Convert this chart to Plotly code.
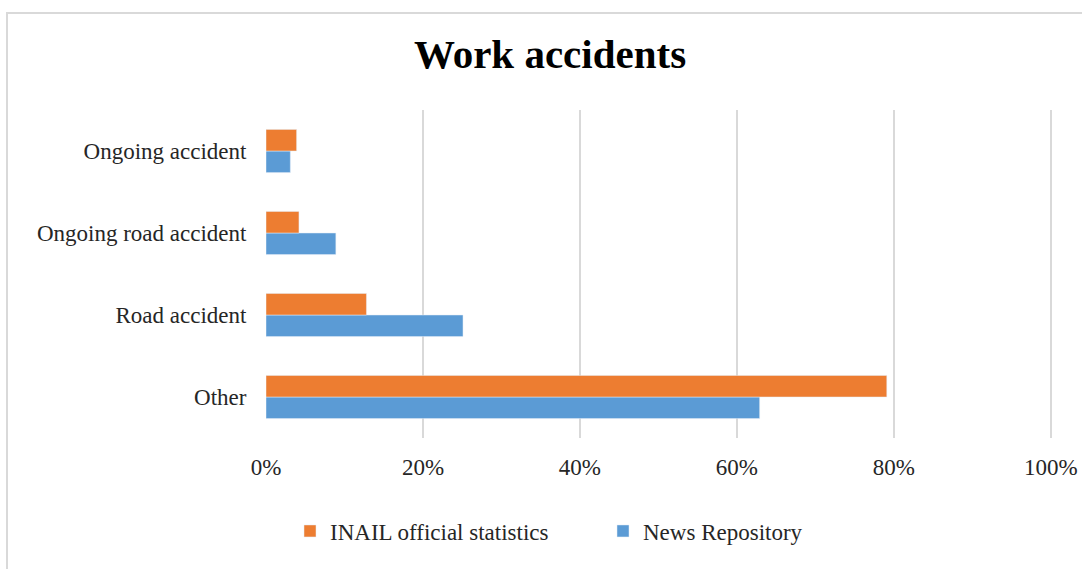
import plotly.graph_objects as go

# Categories listed bottom-to-top as they appear on the vertical axis
categories = ["Other", "Road accident", "Ongoing road accident", "Ongoing accident"]
news_repository = [62.9, 25.1, 8.9, 3.1]
inail_statistics = [79.1, 12.8, 4.2, 3.9]
x_ticks = [0, 20, 40, 60, 80, 100]
x_tick_labels = [f"{v}%" for v in x_ticks]

W, H = 1082, 569
ML, MR, MT, MB = 266, 30, 110, 131

serif = "Liberation Serif, Times New Roman, serif"
BLUE = "#5B9BD5"
ORANGE = "#ED7D31"
GRID = "#D9D9D9"
TEXT = "#262626"

fig = go.Figure()
fig.add_trace(go.Bar(
    y=categories, x=news_repository, orientation="h",
    name="News Repository", marker=dict(color=BLUE),
))
fig.add_trace(go.Bar(
    y=categories, x=inail_statistics, orientation="h",
    name="INAIL official statistics", marker=dict(color=ORANGE),
))

pw = W - ML - MR
ph = H - MT - MB

fig.update_layout(
    width=W, height=H,
    margin=dict(l=ML, r=MR, t=MT, b=MB, pad=0, autoexpand=False),
    paper_bgcolor="white", plot_bgcolor="white",
    barmode="group", bargap=0.474, bargroupgap=0,
    font=dict(family=serif, size=23, color=TEXT),
    title=dict(
        text="<b>Work accidents</b>",
        font=dict(family=serif, size=41, color="black"),
        x=550 / W, xanchor="center", xref="container",
        y=1 - 54 / H, yanchor="middle", yref="container",
    ),
    xaxis=dict(
        range=[0, 100.15], tickmode="array",
        tickvals=x_ticks, ticktext=x_tick_labels,
        showgrid=True, gridcolor=GRID, gridwidth=2,
        zeroline=False, showline=False,
        ticks="outside", ticklen=8, tickcolor="rgba(0,0,0,0)",
        tickfont=dict(family=serif, size=23, color=TEXT),
        fixedrange=True, automargin=False,
    ),
    yaxis=dict(
        type="category", categoryorder="array", categoryarray=categories,
        showgrid=False, zeroline=False, showline=False,
        ticks="outside", ticklen=14, tickcolor="rgba(0,0,0,0)",
        tickfont=dict(family=serif, size=23, color=TEXT),
        fixedrange=True, automargin=False,
    ),
    legend=dict(
        orientation="h", traceorder="reversed",
        xref="container", yref="container",
        x=290 / W, xanchor="left",
        y=1 - 531 / H, yanchor="middle",
        font=dict(family=serif, size=23, color=TEXT),
        entrywidth=268, entrywidthmode="pixels",
        bgcolor="rgba(0,0,0,0)",
    ),
    showlegend=True,
)

# Light frame around the chart area (extends past the right and bottom edges)
fig.add_shape(
    type="rect", xref="paper", yref="paper",
    x0=(7 - ML) / pw, x1=(W + 5 - ML) / pw,
    y0=-(H + 5 - MT - ph) / ph, y1=(H - MB - 13) / ph,
    line=dict(color=GRID, width=2), fillcolor="rgba(0,0,0,0)", layer="below",
)

fig.write_html("out.html")
